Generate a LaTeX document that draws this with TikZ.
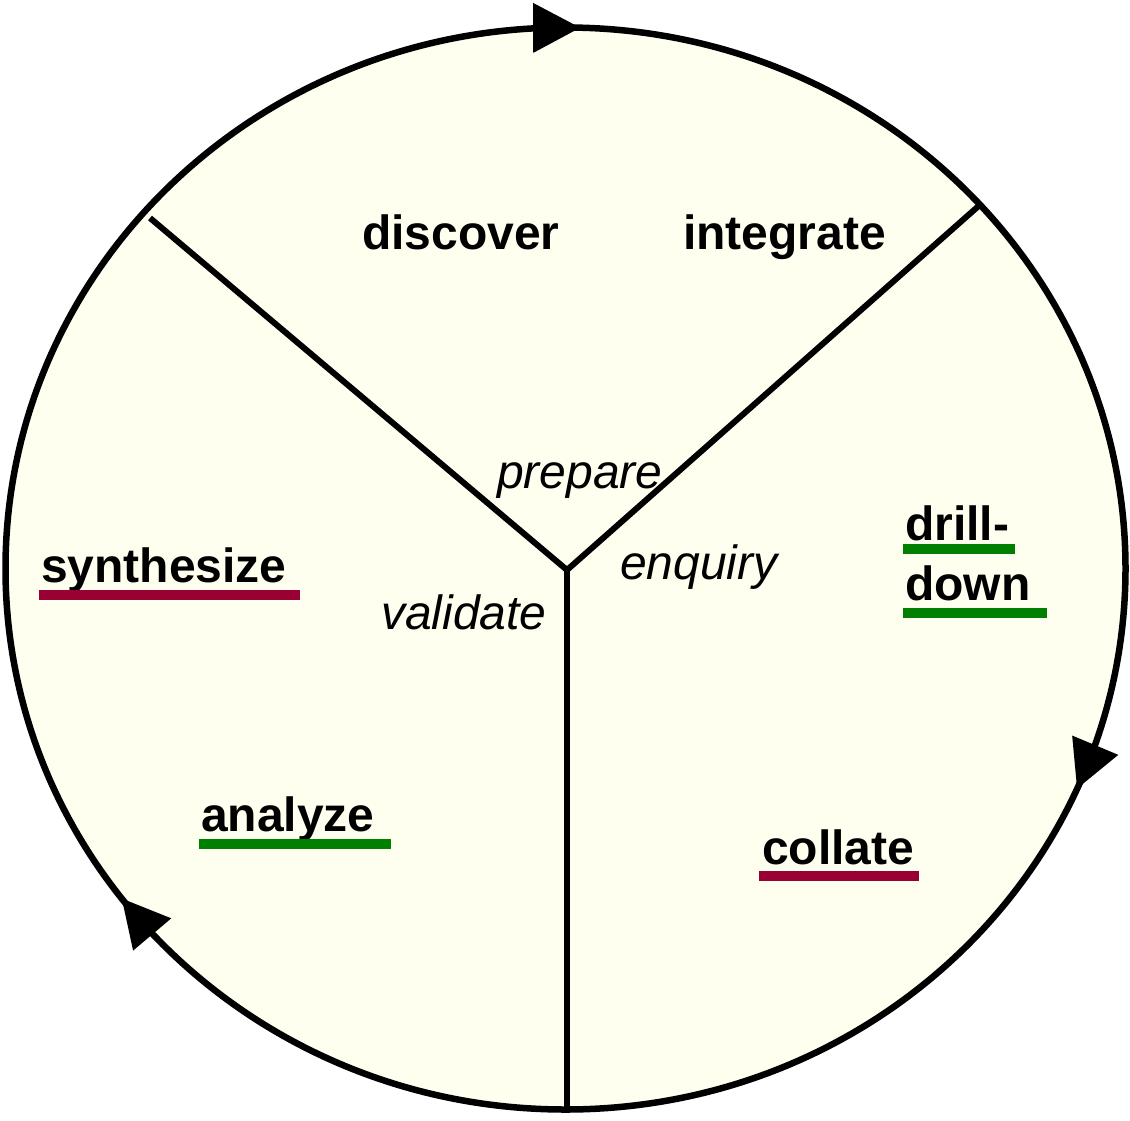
\documentclass[tikz,border=0pt]{standalone}
\usepackage{fontspec}
\setmainfont{Liberation Sans}
\usetikzlibrary{calc}
\definecolor{cream}{RGB}{255,255,240}
\definecolor{maroonline}{RGB}{153,0,51}
\definecolor{greenline}{RGB}{0,128,0}
\newcommand{\cycarrow}[3]{%
  \coordinate (#1t) at ($(c)+(#2:560pt and 541pt)$);
  \coordinate (#1q) at ($(c)+(#3:560pt and 541pt)$);
  \coordinate (#1b) at ($(#1t)!47pt!(#1q)$);
  \fill ($(#1b)!25pt!90:(#1t)$) -- (#1t) -- ($(#1b)!25pt!-90:(#1t)$) -- cycle;
}
\begin{document}
\begin{tikzpicture}[x=1pt,y=1pt,
  stage/.style={font=\fontsize{48}{50}\selectfont\bfseries, inner sep=0pt, anchor=base west},
  phase/.style={font=\fontsize{48}{50}\selectfont\itshape, inner sep=0pt, anchor=base west},
  uline/.style={line width=10pt},
  divider/.style={line width=6pt, line cap=butt}]
\useasboundingbox (0,0) rectangle (1130,-1120);
\coordinate (c) at (565.5,-568.5);
\fill[cream] (c) ellipse [x radius=560pt, y radius=541pt];
% Y dividers
\coordinate (hub) at (567,-570);
\coordinate (ul) at (150,-218);
\coordinate (ur) at (982,-203);
\coordinate (bot) at (567,-1110);
\draw[divider] (ul) -- (hub) -- (ur);
\draw[divider] (hub) -- (bot);
\draw[line width=6.5pt] (c) ellipse [x radius=560pt, y radius=541pt];
% arrowheads (clockwise cycle)
\cycarrow{a1}{88.5}{92}
\cycarrow{a2}{-24}{-20}
\cycarrow{a3}{217.6}{221}
% texts
\node[stage] (discover) at (362,-249) {discover};
\node[stage] (integrate) at (683,-249) {integrate};
\node[phase] (prepare) at (497,-488) {prepare};
\node[phase] (enquiry) at (620,-579) {enquiry};
\node[phase] (validate) at (381,-629) {validate};
\node[stage] (synthesize) at (41,-582) {synthesize};
\node[stage] (drill) at (905,-540) {drill-};
\node[stage] (down) at (905,-600) {down};
\node[stage] (analyze) at (201,-831) {analyze};
\node[stage] (collate) at (762,-864) {collate};
% underlines
\draw[uline, maroonline] (39,-595) -- (300,-595);
\draw[uline, greenline] (903,-548.5) -- (1015,-548.5);
\draw[uline, greenline] (903,-612.5) -- (1047,-612.5);
\draw[uline, greenline] (199,-843.5) -- (391,-843.5);
\draw[uline, maroonline] (759,-875.5) -- (919,-875.5);
\end{tikzpicture}
\end{document}
